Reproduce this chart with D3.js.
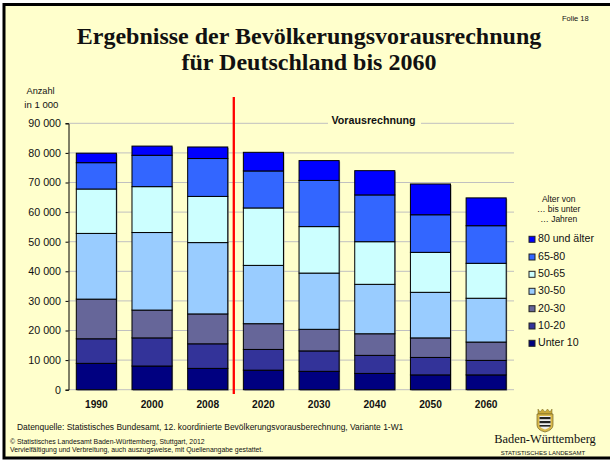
<!DOCTYPE html>
<html><head><meta charset="utf-8">
<script src="https://cdnjs.cloudflare.com/ajax/libs/d3/7.8.5/d3.min.js"></script>
<style>html,body{margin:0;padding:0;background:#fff}svg{display:block}text{font-family:"Liberation Sans",Arial,sans-serif;fill:#111}</style>
</head><body><div id="c"></div>
<script>
const years=["1990","2000","2008","2020","2030","2040","2050","2060"];
const ageKeys=["Unter 10","10-20","20-30","30-50","50-65","65-80","80 und älter"];
const colors=["#000080","#333399","#666699","#99CCFF","#CCFFFF","#3366FF","#0000FF"];
const under10=[8900,8000,7200,6600,6200,5500,5000,5000];
const age10to20=[8300,9500,8300,7000,6900,6100,5900,4900];
const age20to30=[13400,9400,10100,8700,7300,7300,6600,6200];
const age30to50=[22200,26200,24100,19700,19000,16700,15400,14800];
const age50to65=[15000,15500,15600,19400,15700,14400,13500,11800];
const age65to80=[8900,10600,12800,12500,15600,15800,12700,12700];
const age80plus=[3200,3100,3900,6300,6700,8200,10400,9400];
const yTicks=[0,10000,20000,30000,40000,50000,60000,70000,80000,90000];
const seriesValues=[under10,age10to20,age20to30,age30to50,age50to65,age65to80,age80plus];

const W=610,H=461;
const svg=d3.select("#c").append("svg").attr("width",W).attr("height",H);
svg.append("rect").attr("x",0).attr("y",0).attr("width",W).attr("height",H).attr("fill","#fff");
svg.append("rect").attr("x",4).attr("y",4.5).attr("width",W).attr("height",453.5).attr("fill","#FFFFCC").attr("stroke","#000").attr("stroke-width",3);

const x=d3.scaleBand().domain(years).range([68.5,514]).paddingInner(0.28).paddingOuter(0.14);
const y=d3.scaleLinear().domain([0,90000]).range([389.7,123.3]);

svg.append("g").selectAll("line").data(yTicks).join("line")
 .attr("x1",68.5).attr("x2",514).attr("y1",d=>y(d)).attr("y2",d=>y(d)).attr("stroke","#C0C0C0").attr("stroke-width",1);

const rows=years.map((yr,i)=>{const o={year:yr};ageKeys.forEach((k,j)=>o[k]=seriesValues[j][i]);return o;});
const stack=d3.stack().keys(ageKeys)(rows);
svg.append("g").selectAll("rect").data(rows).join("rect")
 .attr("x",d=>x(d.year)+1).attr("width",x.bandwidth())
 .attr("y",d=>y(d3.sum(ageKeys,k=>d[k]))+1).attr("height",d=>y(0)-y(d3.sum(ageKeys,k=>d[k])))
 .attr("fill","#999");
svg.append("g").selectAll("g").data(stack).join("g").attr("fill",(d,i)=>colors[i])
 .selectAll("rect").data(d=>d).join("rect")
 .attr("x",d=>x(d.data.year)).attr("width",x.bandwidth())
 .attr("y",d=>y(d[1])).attr("height",d=>y(d[0])-y(d[1]))
 .attr("stroke","#000").attr("stroke-width",1);

const yAxis=d3.axisLeft(y).tickValues(yTicks).tickSize(3).tickPadding(4.5)
 .tickFormat(d=>d===0?"0":d3.format(",")(d).replace(",","\u00a0"));
const ga=svg.append("g").attr("transform","translate(68.5,0)").call(yAxis);
ga.selectAll("text").style("font-size","10.7px");
ga.selectAll("line").attr("stroke","#000");ga.select(".domain").attr("stroke","#000");

const xAxis=d3.axisBottom(x).tickSize(0).tickPadding(11);
const gx=svg.append("g").attr("transform","translate(0,389.7)").call(xAxis);
gx.select(".domain").remove();
gx.selectAll("text").style("font-size","10.2px").style("font-weight","bold");

svg.append("line").attr("x1",233.8).attr("x2",233.8).attr("y1",97).attr("y2",394).attr("stroke","#FF0000").attr("stroke-width",2.3);

const T=(s,px,py,size,opt={})=>svg.append("text").text(s).attr("x",px).attr("y",py).style("font-size",size+"px")
  .attr("text-anchor",opt.a||"start").style("font-weight",opt.w||"normal").style("font-family",opt.f||null);
const serif='"Liberation Serif","Times New Roman",serif';
T("Ergebnisse der Bevölkerungsvorausrechnung",309,43.5,24,{a:"middle",w:"bold",f:serif});
T("für Deutschland bis 2060",309,69.5,24,{a:"middle",w:"bold",f:serif});
T("Folie 18",562,21,7.5);
T("Anzahl",26.5,94,9.2);
T("in 1 000",24.3,108,9.6);
svg.append("rect").attr("x",328).attr("y",116).attr("width",93).attr("height",14).attr("fill","#FFFFCC");
T("Vorausrechnung",331.5,124,10.7,{w:"bold"});
T("Alter von",558.7,202.3,8.5,{a:"middle"});
T("… bis unter",558.7,212,8.5,{a:"middle"});
T("… Jahren",558.7,222,8.5,{a:"middle"});

const legendY=[239.3,257,274.3,291.3,308.7,326,343.3];
const legendOrder=ageKeys.map((k,i)=>({k,c:colors[i]})).reverse();
const lg=svg.append("g").selectAll("g").data(legendOrder).join("g")
 .attr("transform",(d,i)=>`translate(529,${legendY[i]})`);
lg.append("rect").attr("x",0).attr("y",-3).attr("width",6).attr("height",6).attr("fill",d=>d.c).attr("stroke","#222").attr("stroke-width",1);
lg.append("text").text(d=>d.k).attr("x",9).attr("y",3).style("font-size","10.6px");

T("Datenquelle: Statistisches Bundesamt, 12. koordinierte Bevölkerungsvorausberechnung, Variante 1-W1",17,430,8.45);
T("© Statistisches Landesamt Baden-Württemberg, Stuttgart, 2012",10,444,6.9);
T("Vervielfältigung und Verbreitung, auch auszugsweise, mit Quellenangabe gestattet.",10,452,6.9);
T("Baden-Württemberg",545,443,12.4,{a:"middle",f:serif});
T("STATISTISCHES LANDESAMT",543,455.3,6,{a:"middle"});

const crest=svg.append("g").attr("transform","translate(545,420)");
crest.append("path").attr("d","M-7,-11L-5,-8L-2.5,-11L0,-8L2.5,-11L5,-8L7,-11L7,-6L-7,-6Z").attr("fill","#C9A93A").attr("stroke","#776622").attr("stroke-width",.5);
crest.append("path").attr("d","M-8,-6L8,-6L8,5Q8,10 0,12Q-8,10 -8,5Z").attr("fill","#D9B84A").attr("stroke","#776622").attr("stroke-width",.7);
crest.append("path").attr("d","M-5.5,-4L5.5,-4L5.5,4Q5.5,8 0,9.5Q-5.5,8 -5.5,4Z").attr("fill","#eee");
crest.append("rect").attr("x",-5.5).attr("y",-3).attr("width",11).attr("height",2.2).attr("fill","#222");
crest.append("rect").attr("x",-5.5).attr("y",1).attr("width",11).attr("height",2.2).attr("fill","#222");
crest.append("rect").attr("x",-5.5).attr("y",5).attr("width",11).attr("height",1.6).attr("fill","#222");
</script></body></html>
